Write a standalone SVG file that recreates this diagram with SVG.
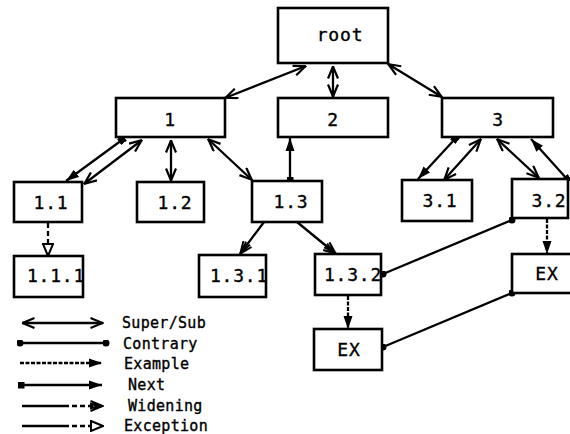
<svg xmlns="http://www.w3.org/2000/svg" width="570" height="434" viewBox="0 0 570 434">
<style>
.box{fill:#fff;stroke:#000;stroke-width:2.6}
.lbl{font-family:"DejaVu Sans Mono","Liberation Mono",monospace;font-size:18px;letter-spacing:0.8px;text-anchor:middle;fill:#000;stroke:#000;stroke-width:0.35}
.leg{font-family:"DejaVu Sans Mono","Liberation Mono",monospace;font-size:15px;letter-spacing:0.3px;fill:#000;stroke:#000;stroke-width:0.35}
.ln{fill:none;stroke:#000;stroke-width:2.3}
.sup{marker-start:url(#open);marker-end:url(#open)}
.next{marker-start:url(#sq);marker-end:url(#fill)}
.con{marker-start:url(#dot);marker-end:url(#dot)}
.ex{stroke-dasharray:4 1.5;marker-end:url(#fill)}
.dash{stroke-dasharray:5 3}
</style>
<defs>
<marker id="open" markerUnits="userSpaceOnUse" viewBox="0 0 14 12" refX="13.5" refY="6" markerWidth="14" markerHeight="12" orient="auto-start-reverse"><path d="M1,1 L13,6 L1,11" fill="none" stroke="#000" stroke-width="2.2"/></marker>
<marker id="wid" markerUnits="userSpaceOnUse" viewBox="0 0 14 12" refX="13.5" refY="6" markerWidth="14" markerHeight="12" orient="auto"><path d="M1,1 L13,6 L1,11 M0,3.5 L9,6 L0,8.5" fill="none" stroke="#000" stroke-width="2"/></marker>
<marker id="fill" markerUnits="userSpaceOnUse" viewBox="0 0 13 10" refX="13" refY="5" markerWidth="13" markerHeight="10" orient="auto"><path d="M0,0.5 L13,5 L0,9.5 Z" fill="#000"/></marker>
<marker id="tri" markerUnits="userSpaceOnUse" viewBox="0 0 14 12" refX="13" refY="6" markerWidth="14" markerHeight="12" orient="auto"><path d="M1,1 L13,6 L1,11 Z" fill="#fff" stroke="#000" stroke-width="2"/></marker>
<marker id="sq" markerUnits="userSpaceOnUse" viewBox="0 0 7 7" refX="3.5" refY="3.5" markerWidth="7" markerHeight="7" orient="auto"><rect x="0" y="0" width="7" height="7" fill="#000"/></marker>
<marker id="dot" markerUnits="userSpaceOnUse" viewBox="0 0 7 7" refX="3.5" refY="3.5" markerWidth="7" markerHeight="7"><circle cx="3.5" cy="3.5" r="3.5" fill="#000"/></marker>
</defs>

<g id="connectors">
<line class="ln sup" x1="225" y1="98" x2="306" y2="66"/>
<line class="ln sup" x1="333" y1="66" x2="333" y2="97"/>
<line class="ln sup" x1="388" y1="64" x2="442" y2="97"/>
<line class="ln next" x1="122" y1="140" x2="66" y2="181"/>
<line class="ln sup" x1="142" y1="140" x2="84" y2="184"/>
<line class="ln sup" x1="171" y1="140" x2="171" y2="181"/>
<line class="ln sup" x1="208" y1="139" x2="252" y2="180"/>
<line class="ln next" x1="290" y1="180" x2="290" y2="138"/>
<line class="ln next" x1="455" y1="139" x2="418" y2="179"/>
<line class="ln sup" x1="481" y1="139" x2="444" y2="180"/>
<line class="ln sup" x1="497" y1="139" x2="539" y2="178"/>
<line class="ln next" x1="567" y1="179" x2="531" y2="139"/>
<line class="ln dash" x1="48" y1="223" x2="48" y2="244"/>
<line class="ln" x1="48" y1="243" x2="48" y2="256" style="marker-end:url(#tri)"/>
<line class="ln" x1="264" y1="222" x2="240" y2="254" style="marker-end:url(#wid)"/>
<line class="ln" x1="297" y1="222" x2="336" y2="254" style="marker-end:url(#wid)"/>
<line class="ln con" x1="512" y1="220" x2="383" y2="274"/>
<line class="ln ex" x1="547" y1="219" x2="547" y2="254"/>
<line class="ln ex" x1="348" y1="296" x2="348" y2="329"/>
<line class="ln con" x1="512" y1="293" x2="383" y2="347"/>
</g>

<g id="root"><rect class="box" x="278" y="8" width="110" height="55"/><text class="lbl" x="340" y="41">root</text></g>
<g id="n1"><rect class="box" x="116" y="98" width="109" height="39"/><text class="lbl" x="170" y="126">1</text></g>
<g id="n2"><rect class="box" x="278" y="98" width="110" height="39"/><text class="lbl" x="333" y="126">2</text></g>
<g id="n3"><rect class="box" x="442" y="98" width="111" height="39"/><text class="lbl" x="498" y="126">3</text></g>
<g id="n1_1"><rect class="box" x="14" y="182" width="68" height="40"/><text class="lbl" x="51" y="209">1.1</text></g>
<g id="n1_2"><rect class="box" x="137" y="182" width="67" height="40"/><text class="lbl" x="175" y="209">1.2</text></g>
<g id="n1_3"><rect class="box" x="252" y="181" width="70" height="41"/><text class="lbl" x="291" y="208">1.3</text></g>
<g id="n3_1"><rect class="box" x="402" y="180" width="70" height="41"/><text class="lbl" x="440" y="207">3.1</text></g>
<g id="n3_2"><rect class="box" x="512" y="179" width="56" height="39"/><text class="lbl" x="549" y="207">3.2</text></g>
<g id="n1_1_1"><rect class="box" x="14" y="256" width="69" height="41"/><text class="lbl" x="56" y="282">1.1.1</text></g>
<g id="n1_3_1"><rect class="box" x="199" y="255" width="67" height="42"/><text class="lbl" x="239" y="282">1.3.1</text></g>
<g id="n1_3_2"><rect class="box" x="315" y="254" width="66" height="41"/><text class="lbl" x="353" y="281">1.3.2</text></g>
<g id="ex1"><rect class="box" x="512" y="254" width="64" height="39"/><text class="lbl" x="547" y="280">EX</text></g>
<g id="ex2"><rect class="box" x="314" y="329" width="68" height="41"/><text class="lbl" x="349" y="356">EX</text></g>

<g id="legend">
<line class="ln sup" x1="22" y1="323" x2="103" y2="323"/>
<text class="leg" x="122" y="328">Super/Sub</text>
<line class="ln con" x1="20" y1="343" x2="106" y2="343"/>
<text class="leg" x="123" y="349">Contrary</text>
<line class="ln ex" x1="20" y1="363" x2="102" y2="363"/>
<text class="leg" x="124" y="369">Example</text>
<line class="ln next" x1="21" y1="385" x2="102" y2="385"/>
<text class="leg" x="128" y="390">Next</text>
<line class="ln" x1="22" y1="406" x2="64" y2="406"/>
<line class="ln dash" x1="64" y1="406" x2="103" y2="406" style="marker-end:url(#wid)"/>
<text class="leg" x="128" y="411">Widening</text>
<line class="ln" x1="22" y1="426" x2="64" y2="426"/>
<line class="ln dash" x1="64" y1="426" x2="103" y2="426" style="marker-end:url(#tri)"/>
<text class="leg" x="124" y="431">Exception</text>
</g>
</svg>
